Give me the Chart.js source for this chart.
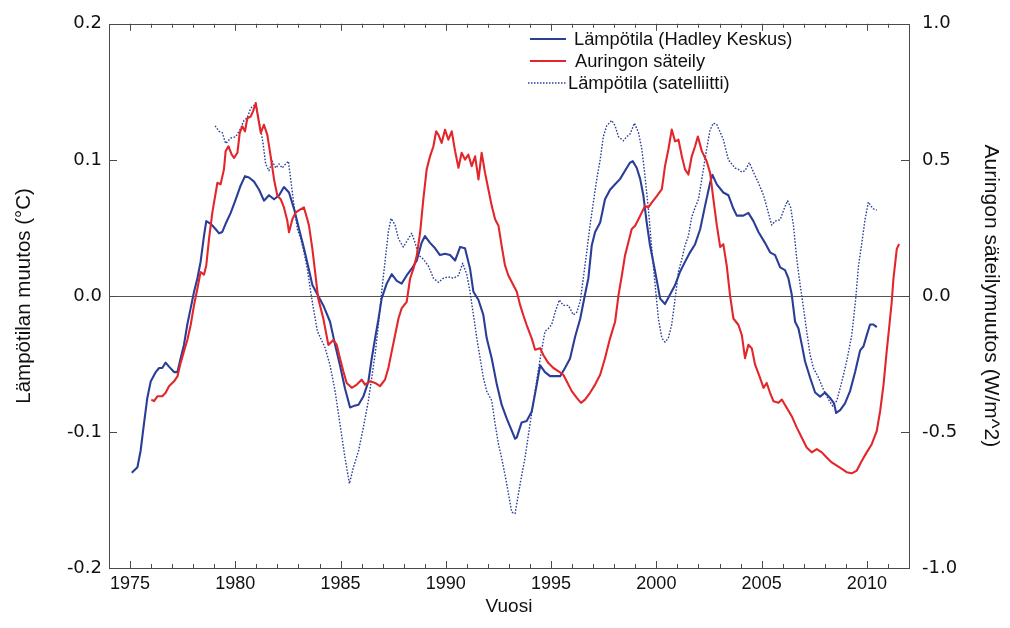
<!DOCTYPE html>
<html>
<head>
<meta charset="utf-8">
<script src="https://cdn.jsdelivr.net/npm/chart.js@4.4.1/dist/chart.umd.min.js"></script>
<style>
html,body{margin:0;padding:0;background:#fff;}
#wrap{width:1010px;height:628px;position:relative;}
</style>
</head>
<body>
<div id="wrap"><canvas id="c"></canvas></div>
<script>
// ---- Data ----
const hadleyYears = [1975.08,1975.35,1975.50,1975.66,1975.82,1975.98,1976.22,1976.38,1976.53,1976.69,1976.85,1977.09,1977.25,1977.40,1977.56,1977.72,1977.88,1978.04,1978.20,1978.35,1978.51,1978.62,1978.83,1979.07,1979.23,1979.38,1979.54,1979.78,1980.02,1980.25,1980.46,1980.65,1980.89,1981.13,1981.36,1981.60,1981.84,1982.08,1982.31,1982.55,1982.79,1983.03,1983.26,1983.50,1983.66,1983.87,1984.18,1984.50,1984.74,1984.97,1985.21,1985.45,1985.61,1985.85,1986.08,1986.32,1986.48,1986.64,1986.80,1986.95,1987.19,1987.43,1987.67,1987.90,1988.14,1988.38,1988.62,1988.85,1989.01,1989.25,1989.49,1989.72,1989.96,1990.20,1990.44,1990.68,1990.91,1991.15,1991.31,1991.55,1991.78,1991.94,1992.18,1992.42,1992.65,1992.89,1993.13,1993.29,1993.37,1993.60,1993.84,1994.08,1994.32,1994.48,1994.71,1994.95,1995.19,1995.43,1995.66,1995.90,1996.14,1996.38,1996.61,1996.77,1996.93,1997.09,1997.33,1997.56,1997.80,1998.04,1998.28,1998.51,1998.75,1998.88,1999.07,1999.23,1999.38,1999.54,1999.70,1999.94,2000.18,2000.41,2000.65,2000.89,2001.13,2001.36,2001.60,2001.84,2002.08,2002.31,2002.55,2002.66,2002.87,2003.18,2003.42,2003.66,2003.82,2004.13,2004.37,2004.61,2004.85,2005.16,2005.40,2005.64,2005.88,2006.11,2006.27,2006.43,2006.59,2006.75,2006.91,2007.06,2007.30,2007.54,2007.78,2008.01,2008.25,2008.44,2008.54,2008.73,2008.96,2009.20,2009.44,2009.68,2009.84,2009.99,2010.15,2010.31,2010.47];
const hadleyTemp = [-0.130,-0.126,-0.114,-0.094,-0.075,-0.063,-0.056,-0.053,-0.053,-0.049,-0.052,-0.056,-0.056,-0.046,-0.036,-0.021,-0.009,0.003,0.013,0.025,0.044,0.055,0.053,0.049,0.046,0.047,0.053,0.061,0.071,0.081,0.088,0.087,0.084,0.078,0.070,0.074,0.071,0.074,0.080,0.076,0.064,0.049,0.035,0.019,0.008,0.002,-0.007,-0.019,-0.036,-0.051,-0.068,-0.082,-0.081,-0.080,-0.074,-0.063,-0.046,-0.031,-0.017,-0.002,0.009,0.016,0.011,0.009,0.015,0.020,0.026,0.039,0.044,0.039,0.035,0.030,0.031,0.030,0.026,0.036,0.035,0.020,0.003,-0.003,-0.014,-0.031,-0.046,-0.065,-0.080,-0.090,-0.099,-0.105,-0.104,-0.093,-0.092,-0.085,-0.065,-0.051,-0.056,-0.059,-0.059,-0.059,-0.053,-0.046,-0.030,-0.017,0.001,0.013,0.037,0.047,0.054,0.071,0.078,0.082,0.086,0.092,0.098,0.099,0.094,0.086,0.074,0.054,0.037,0.018,-0.002,-0.006,0.001,0.008,0.018,0.025,0.032,0.038,0.049,0.066,0.083,0.089,0.082,0.076,0.074,0.064,0.059,0.059,0.061,0.055,0.047,0.039,0.032,0.030,0.021,0.019,0.013,0.001,-0.019,-0.024,-0.036,-0.048,-0.060,-0.071,-0.074,-0.071,-0.075,-0.079,-0.086,-0.084,-0.079,-0.070,-0.056,-0.040,-0.037,-0.029,-0.021,-0.021,-0.023];

const solarYears = [1976.01,1976.14,1976.30,1976.53,1976.69,1976.85,1977.09,1977.25,1977.40,1977.56,1977.72,1977.88,1978.04,1978.20,1978.35,1978.51,1978.62,1978.75,1978.91,1979.07,1979.15,1979.30,1979.46,1979.54,1979.67,1979.83,1979.94,1980.10,1980.21,1980.33,1980.46,1980.57,1980.73,1980.84,1980.97,1981.09,1981.21,1981.36,1981.52,1981.68,1981.84,1982.00,1982.16,1982.31,1982.47,1982.55,1982.71,1982.87,1983.11,1983.26,1983.42,1983.50,1983.66,1983.79,1983.90,1983.94,1984.18,1984.42,1984.66,1984.82,1984.97,1985.13,1985.29,1985.53,1985.77,1986.00,1986.16,1986.40,1986.64,1986.87,1987.11,1987.27,1987.43,1987.59,1987.75,1987.90,1988.14,1988.30,1988.46,1988.62,1988.78,1988.93,1989.09,1989.25,1989.41,1989.54,1989.65,1989.80,1989.96,1990.12,1990.28,1990.44,1990.60,1990.75,1990.91,1991.07,1991.23,1991.39,1991.55,1991.70,1991.86,1992.02,1992.18,1992.34,1992.50,1992.65,1992.81,1992.97,1993.21,1993.37,1993.53,1993.68,1993.84,1994.08,1994.24,1994.48,1994.63,1994.87,1995.11,1995.35,1995.58,1995.74,1995.98,1996.22,1996.42,1996.61,1996.85,1997.09,1997.33,1997.56,1997.80,1998.04,1998.20,1998.36,1998.51,1998.67,1998.83,1998.99,1999.15,1999.31,1999.46,1999.62,1999.78,2000.02,2000.26,2000.41,2000.57,2000.73,2000.89,2001.05,2001.21,2001.36,2001.52,2001.68,2001.84,2001.97,2002.16,2002.39,2002.55,2002.71,2002.87,2003.03,2003.18,2003.34,2003.50,2003.66,2003.90,2004.06,2004.21,2004.37,2004.53,2004.69,2004.93,2005.09,2005.24,2005.40,2005.56,2005.80,2005.96,2006.19,2006.43,2006.67,2006.91,2007.14,2007.38,2007.62,2007.86,2008.09,2008.33,2008.57,2008.81,2009.04,2009.28,2009.52,2009.76,2009.99,2010.23,2010.47,2010.63,2010.79,2010.94,2011.07,2011.18,2011.26,2011.42,2011.53];
const solarForcing = [-0.381,-0.387,-0.369,-0.369,-0.356,-0.332,-0.314,-0.296,-0.247,-0.204,-0.162,-0.107,-0.034,0.027,0.088,0.078,0.112,0.209,0.307,0.380,0.416,0.410,0.465,0.532,0.550,0.519,0.507,0.526,0.599,0.623,0.605,0.653,0.659,0.678,0.708,0.653,0.599,0.629,0.592,0.513,0.428,0.367,0.355,0.325,0.276,0.234,0.282,0.307,0.319,0.325,0.282,0.258,0.173,0.088,0.015,-0.010,-0.083,-0.180,-0.162,-0.180,-0.229,-0.277,-0.320,-0.338,-0.326,-0.308,-0.326,-0.314,-0.320,-0.332,-0.308,-0.265,-0.204,-0.144,-0.083,-0.046,-0.022,0.063,0.100,0.148,0.234,0.355,0.465,0.513,0.550,0.605,0.592,0.562,0.611,0.574,0.605,0.532,0.471,0.526,0.501,0.519,0.477,0.513,0.428,0.526,0.453,0.392,0.331,0.282,0.258,0.185,0.112,0.075,0.039,0.015,-0.034,-0.071,-0.107,-0.156,-0.198,-0.192,-0.217,-0.247,-0.265,-0.277,-0.290,-0.314,-0.350,-0.375,-0.393,-0.381,-0.356,-0.326,-0.290,-0.229,-0.156,-0.095,0.002,0.075,0.148,0.197,0.246,0.258,0.282,0.307,0.331,0.325,0.343,0.367,0.392,0.477,0.538,0.611,0.568,0.574,0.513,0.465,0.446,0.513,0.550,0.586,0.532,0.495,0.453,0.355,0.260,0.180,0.190,0.112,0.002,-0.083,-0.107,-0.144,-0.229,-0.180,-0.192,-0.253,-0.302,-0.338,-0.320,-0.356,-0.387,-0.393,-0.381,-0.411,-0.442,-0.484,-0.521,-0.557,-0.575,-0.563,-0.575,-0.594,-0.612,-0.624,-0.636,-0.648,-0.652,-0.642,-0.606,-0.575,-0.545,-0.496,-0.423,-0.326,-0.204,-0.107,-0.022,0.063,0.173,0.191];

const satYears = [1979.04,1979.23,1979.38,1979.54,1979.78,1980.02,1980.25,1980.41,1980.57,1980.73,1980.89,1980.97,1981.09,1981.21,1981.32,1981.44,1981.60,1981.76,1981.92,1982.08,1982.23,1982.39,1982.52,1982.63,1982.79,1982.95,1983.11,1983.26,1983.42,1983.58,1983.74,1983.90,1984.26,1984.50,1984.74,1984.97,1985.21,1985.42,1985.61,1985.85,1986.08,1986.32,1986.48,1986.64,1986.80,1986.95,1987.11,1987.27,1987.40,1987.59,1987.75,1987.98,1988.22,1988.38,1988.54,1988.70,1988.93,1989.17,1989.41,1989.65,1989.88,1990.12,1990.36,1990.60,1990.80,1990.99,1991.15,1991.31,1991.47,1991.63,1991.78,1991.94,1992.18,1992.34,1992.50,1992.65,1992.89,1993.13,1993.29,1993.53,1993.76,1994.00,1994.24,1994.48,1994.71,1994.87,1995.03,1995.19,1995.39,1995.58,1995.82,1996.06,1996.22,1996.38,1996.53,1996.69,1996.85,1997.01,1997.17,1997.33,1997.48,1997.64,1997.88,1998.04,1998.20,1998.43,1998.59,1998.75,1998.96,1999.15,1999.31,1999.46,1999.62,1999.78,1999.94,2000.10,2000.26,2000.41,2000.57,2000.73,2000.89,2001.05,2001.21,2001.36,2001.52,2001.68,2001.84,2002.00,2002.16,2002.39,2002.55,2002.71,2002.87,2003.18,2003.42,2003.58,2003.74,2003.90,2004.06,2004.21,2004.42,2004.61,2004.85,2005.09,2005.32,2005.48,2005.64,2005.88,2006.07,2006.23,2006.38,2006.51,2006.67,2006.83,2006.99,2007.14,2007.30,2007.46,2007.70,2007.94,2008.17,2008.38,2008.57,2008.81,2009.04,2009.28,2009.47,2009.60,2009.76,2009.91,2010.07,2010.20,2010.31,2010.47];
const satTemp = [0.125,0.121,0.120,0.112,0.116,0.117,0.123,0.129,0.131,0.138,0.140,0.142,0.131,0.122,0.112,0.097,0.092,0.099,0.094,0.097,0.094,0.097,0.099,0.086,0.066,0.049,0.042,0.032,0.020,0.003,-0.012,-0.026,-0.038,-0.051,-0.070,-0.094,-0.119,-0.138,-0.126,-0.114,-0.097,-0.077,-0.060,-0.043,-0.021,0.003,0.025,0.047,0.057,0.052,0.042,0.036,0.042,0.046,0.039,0.030,0.027,0.022,0.013,0.010,0.013,0.014,0.013,0.015,0.024,0.016,0.003,-0.014,-0.031,-0.046,-0.060,-0.070,-0.077,-0.094,-0.109,-0.119,-0.138,-0.159,-0.160,-0.138,-0.119,-0.094,-0.070,-0.046,-0.026,-0.024,-0.021,-0.012,-0.003,-0.007,-0.007,-0.014,-0.012,-0.004,0.013,0.032,0.052,0.069,0.086,0.100,0.117,0.125,0.129,0.125,0.117,0.114,0.117,0.119,0.127,0.120,0.108,0.088,0.064,0.035,0.008,-0.017,-0.031,-0.034,-0.031,-0.021,-0.002,0.018,0.027,0.037,0.044,0.058,0.065,0.071,0.086,0.108,0.122,0.127,0.126,0.115,0.100,0.097,0.094,0.093,0.091,0.092,0.098,0.091,0.083,0.074,0.061,0.052,0.055,0.056,0.064,0.070,0.065,0.052,0.027,0.008,-0.009,-0.026,-0.043,-0.053,-0.060,-0.069,-0.076,-0.081,-0.077,-0.063,-0.048,-0.029,-0.002,0.022,0.039,0.056,0.069,0.066,0.064,0.063];

const xTickYears = [1975,1980,1985,1990,1995,2000,2005,2010];
const leftTicks = [-0.2,-0.1,0.0,0.1,0.2];
const rightTicks = [-1.0,-0.5,0.0,0.5,1.0];
const seriesNames = ['Lämpötila (Hadley Keskus)','Auringon säteily','Lämpötila (satelliitti)'];
const axisTitles = {x:'Vuosi', left:'Lämpötilan muutos (°C)', right:'Auringon säteilymuutos (W/m^2)'};

const BLUE = '#2b3e97';
const RED = '#e3262b';
const FRAME = '#4a4a4a';

function pairs(xs, ys){ return xs.map((x,i)=>({x:x, y:ys[i]})); }

const framePlugin = {
  id:'frame',
  beforeDatasetsDraw(chart){
    const {ctx, chartArea:a, scales} = chart;
    ctx.save();
    ctx.strokeStyle = '#555';
    ctx.lineWidth = 1;
    const y0 = Math.round(scales.y.getPixelForValue(0)) + 0.5;
    ctx.beginPath(); ctx.moveTo(a.left, y0); ctx.lineTo(a.right, y0); ctx.stroke();
    ctx.restore();
  },
  afterDatasetsDraw(chart){
    const {ctx, chartArea:a, scales} = chart;
    ctx.save();
    ctx.strokeStyle = FRAME;
    ctx.lineWidth = 1;
    ctx.strokeRect(Math.round(a.left)+0.5, Math.round(a.top)+0.5, Math.round(a.right-a.left), Math.round(a.bottom-a.top));
    ctx.beginPath();
    for (let yr = 1975; yr <= 2011; yr++) {
      const px = Math.round(scales.x.getPixelForValue(yr)) + 0.5;
      const len = (yr % 5 === 0) ? 7 : 4;
      ctx.moveTo(px, a.bottom); ctx.lineTo(px, a.bottom - len);
      ctx.moveTo(px, a.top); ctx.lineTo(px, a.top + len);
    }
    leftTicks.forEach(v=>{
      if (Math.abs(v) > 0.15) return;
      const py = Math.round(scales.y.getPixelForValue(v)) + 0.5;
      ctx.moveTo(a.left, py); ctx.lineTo(a.left + 8, py);
    });
    rightTicks.forEach(v=>{
      if (Math.abs(v) > 0.75) return;
      const py = Math.round(scales.y2.getPixelForValue(v)) + 0.5;
      ctx.moveTo(a.right, py); ctx.lineTo(a.right - 8, py);
    });
    ctx.stroke();
    ctx.restore();
  },
  afterDraw(chart){
    const ctx = chart.ctx;
    ctx.save();
    ctx.font = '18.3px "Liberation Sans", Arial, sans-serif';
    ctx.fillStyle = '#111';
    ctx.textBaseline = 'middle';
    ctx.textAlign = 'left';
    const rows = [
      {y:39, color:BLUE, dash:[], w:2, x0:530, x1:566, tx:574},
      {y:61, color:RED, dash:[], w:2, x0:530, x1:566, tx:575},
      {y:83, color:BLUE, dash:[1.5,1.5], w:1.4, x0:528, x1:566, tx:568}
    ];
    rows.forEach((r,i)=>{
      ctx.strokeStyle = r.color; ctx.lineWidth = r.w; ctx.setLineDash(r.dash);
      ctx.beginPath(); ctx.moveTo(r.x0, r.y); ctx.lineTo(r.x1, r.y); ctx.stroke();
      ctx.setLineDash([]);
      ctx.fillText(seriesNames[i], r.tx, r.y + 1);
    });
    ctx.restore();
  }
};

new Chart(document.getElementById('c'), {
  type:'line',
  data:{
    datasets:[
      {label:seriesNames[0], data:pairs(hadleyYears, hadleyTemp), borderColor:BLUE, borderWidth:2.1, yAxisID:'y', order:2},
      {label:seriesNames[1], data:pairs(solarYears, solarForcing), borderColor:RED, borderWidth:2.1, yAxisID:'y2', order:1},
      {label:seriesNames[2], data:pairs(satYears, satTemp), borderColor:BLUE, borderWidth:1.4, borderDash:[1.6,1.6], yAxisID:'y', order:3}
    ]
  },
  options:{
    responsive:true,
    maintainAspectRatio:false,
    animation:false,
    devicePixelRatio:1,
    layout:{padding:{top:20, left:0, right:0, bottom:0}},
    elements:{point:{radius:0}, line:{tension:0, borderJoinStyle:'round', borderCapStyle:'butt'}},
    plugins:{legend:{display:false}, tooltip:{enabled:false}},
    scales:{
      x:{
        type:'linear', min:1974, max:2012,
        afterBuildTicks(s){ s.ticks = xTickYears.map(v=>({value:v})); },
        afterFit(s){ s.height = 60; },
        grid:{display:false, drawTicks:false},
        border:{display:false},
        ticks:{padding:5, color:'#111', maxRotation:0, autoSkip:false,
          font:{family:'"Liberation Sans", Arial, sans-serif', size:18},
          callback:v=>String(v)},
        title:{display:true, text:axisTitles.x, color:'#111', padding:{top:0,bottom:10},
          font:{family:'"Liberation Sans", Arial, sans-serif', size:19}}
      },
      y:{
        position:'left', min:-0.2, max:0.2,
        afterBuildTicks(s){ s.ticks = leftTicks.map(v=>({value:v})); },
        afterFit(s){ s.width = 109; },
        grid:{display:false, drawTicks:false},
        border:{display:false},
        ticks:{padding:7, color:'#111', font:{family:'"DejaVu Sans", Verdana, sans-serif', size:18},
          callback:v=>Number(v).toFixed(1)},
        title:{display:true, text:axisTitles.left, color:'#111', padding:{top:12,bottom:0},
          font:{family:'"Liberation Sans", Arial, sans-serif', size:20.5}}
      },
      y2:{
        position:'right', min:-1, max:1,
        afterBuildTicks(s){ s.ticks = rightTicks.map(v=>({value:v})); },
        afterFit(s){ s.width = 101; },
        grid:{display:false, drawTicks:false},
        border:{display:false},
        ticks:{padding:13, color:'#111', font:{family:'"DejaVu Sans", Verdana, sans-serif', size:18},
          callback:v=>Number(v).toFixed(1)},
        title:{display:true, text:axisTitles.right, color:'#111', padding:{top:7,bottom:0},
          font:{family:'"Liberation Sans", Arial, sans-serif', size:21}}
      }
    }
  },
  plugins:[framePlugin]
});
</script>
</body>
</html>
